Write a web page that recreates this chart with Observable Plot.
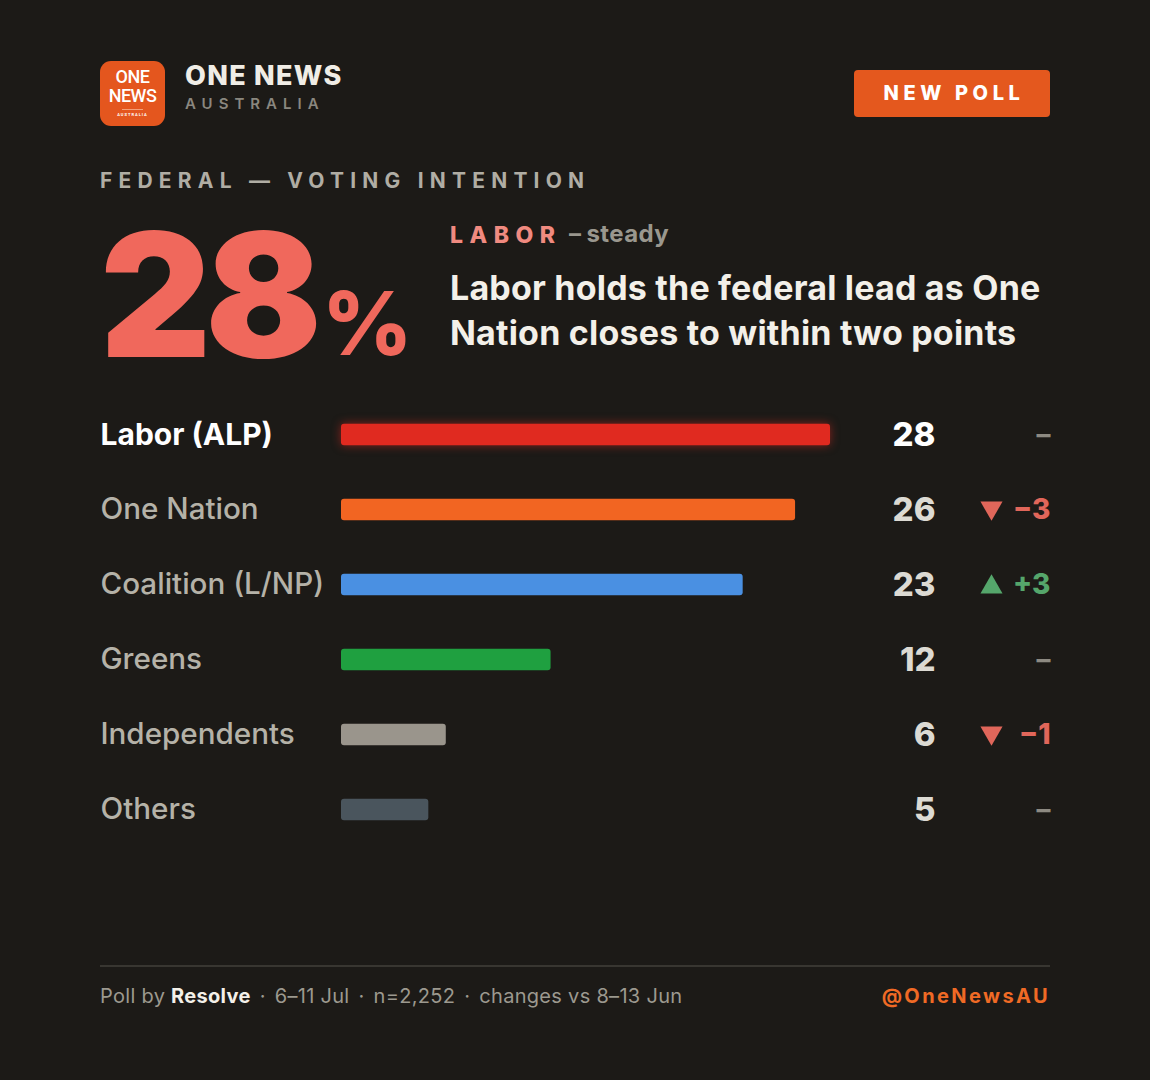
<!DOCTYPE html>
<html>
<head>
<meta charset="utf-8">
<script src="https://cdn.jsdelivr.net/npm/d3@7"></script>
<script src="https://cdn.jsdelivr.net/npm/@observablehq/plot@0.6"></script>
<style>
  html, body { margin: 0; padding: 0; background: #1c1a17; }
  #card { position: relative; width: 1150px; height: 1080px; background: #1c1a17; overflow: hidden; font-family: Inter, Roboto, sans-serif; }
  .abs { position: absolute; white-space: nowrap; }
  #logo { left: 100px; top: 61px; width: 65px; height: 65px; border-radius: 11px; background: #e4561e; color: #fff; text-align: center; }
  #logo .l1 { position: absolute; left: 0; right: 0; top: 7px; font: 500 18px/18px Roboto, sans-serif; letter-spacing: -0.5px; }
  #logo .l2 { position: absolute; left: 0; right: 0; top: 26px; font: 500 18px/18px Roboto, sans-serif; letter-spacing: -0.5px; }
  #logo .line { position: absolute; left: 22px; right: 22px; top: 48px; height: 1px; background: #f3a07a; }
  #logo .l3 { position: absolute; left: 0; right: 0; top: 51px; font: 700 4px/5px Roboto, sans-serif; letter-spacing: 1px; }
  #brand { left: 185px; top: 60px; font: 800 27px/32px Inter, Roboto, sans-serif; color: #f0ede6; letter-spacing: 1.3px; }
  #brandsub { left: 185px; top: 95px; font: 600 15px/18px Inter, Roboto, sans-serif; color: #8a877f; letter-spacing: 6px; }
  #badge { left: 854px; top: 70px; width: 196px; height: 47px; border-radius: 4px; background: #e4581e; color: #fff; font: 800 20px/47px Inter, Roboto, sans-serif; letter-spacing: 4.6px; text-align: center; text-indent: 4px; }
  #kicker { left: 100px; top: 168px; font: 700 21px/26px Inter, Roboto, sans-serif; color: #b0ada4; letter-spacing: 6.2px; }
  #big { left: 100px; top: 229px; font: 900 172px/130px Inter, Roboto, sans-serif; color: #f0685c; letter-spacing: -6px; }
  #pct { left: 322px; top: 273px; font: 800 88px/100px Inter, Roboto, sans-serif; color: #f0685c; }
  #party { left: 450px; top: 221px; font: 800 23px/28px Inter, Roboto, sans-serif; color: #f08a80; letter-spacing: 6.5px; }
  #steady { left: 569px; top: 220px; font: 700 24px/28px Inter, Roboto, sans-serif; color: #9a978e; letter-spacing: 0.4px; }
  #steady .d { margin-right: 5px; }
  #headline { left: 450px; top: 265px; font: 700 34px/45px Inter, Roboto, sans-serif; color: #f3f0e9; letter-spacing: 0.2px; }
  #chart { left: 0; top: 380px; }
  #rule { left: 100px; top: 965px; width: 950px; height: 2px; background: #383631; }
  #foot { left: 100px; top: 983px; font: 400 20px/26px Inter, Roboto, sans-serif; color: #9c998f; letter-spacing: 0.3px; }
  #foot b { color: #f3f0e9; font-weight: 700; }
  #foot .sep { margin: 0 9px; }
  #handle { right: 100px; top: 983px; font: 700 20px/26px Inter, Roboto, sans-serif; color: #f06a25; letter-spacing: 2.4px; }
</style>
</head>
<body>
<div id="card">
  <div id="logo" class="abs"><div class="l1">ONE</div><div class="l2">NEWS</div><div class="line"></div><div class="l3">AUSTRALIA</div></div>
  <div id="brand" class="abs">ONE NEWS</div>
  <div id="brandsub" class="abs">AUSTRALIA</div>
  <div id="badge" class="abs">NEW POLL</div>
  <div id="kicker" class="abs">FEDERAL — VOTING INTENTION</div>
  <div id="big" class="abs">28</div>
  <div id="pct" class="abs">%</div>
  <div id="party" class="abs">LABOR</div>
  <div id="steady" class="abs"><span class="d">–</span>steady</div>
  <div id="headline" class="abs">Labor holds the federal lead as One<br>Nation closes to within two points</div>
  <div id="chart" class="abs"></div>
  <div id="rule" class="abs"></div>
  <div id="foot" class="abs">Poll by <b>Resolve</b><span class="sep">·</span>6–11 Jul<span class="sep">·</span>n=2,252<span class="sep">·</span>changes vs 8–13 Jun</div>
  <div id="handle" class="abs">@OneNewsAU</div>
</div>
<script>
const parties = ["Labor (ALP)", "One Nation", "Coalition (L/NP)", "Greens", "Independents", "Others"];
const shares = [28, 26, 23, 12, 6, 5];
const changes = [0, -3, 3, 0, -1, 0];
const partyColors = ["#e02a20", "#f26522", "#4a90e2", "#1fa040", "#9a958c", "#4a555d"];

const data = parties.map((p, i) => ({party: p, share: shares[i], change: changes[i]}));
const fmtChange = c => (c > 0 ? "+" : "\u2212") + Math.abs(c);
const F = "Inter, Roboto, sans-serif";

const chart = Plot.plot({
  width: 1150,
  height: 500,
  marginLeft: 341,
  marginRight: 320,
  marginTop: 0,
  marginBottom: 0,
  style: {background: "transparent", fontFamily: F, overflow: "visible"},
  x: {domain: [0, 28], axis: null},
  y: {domain: parties, range: [15.2, 468.8], padding: 0, axis: null},
  color: {domain: parties, range: partyColors},
  marks: [
    Plot.barX(data, {x: "share", y: "party", fill: "party", insetTop: 26.8, insetBottom: 26.8, rx: 3}),
    Plot.text(data, {filter: d => d.party === parties[0], y: "party", text: "party", frameAnchor: "left", textAnchor: "start", dx: -241, fill: "#ffffff", fontSize: 30, fontWeight: 700, fontFamily: F}),
    Plot.text(data, {filter: d => d.party !== parties[0], y: "party", text: "party", frameAnchor: "left", textAnchor: "start", dx: -241, fill: "#b5b2a8", fontSize: 29.6, fontWeight: 500, fontFamily: F}),
    Plot.text(data, {filter: d => d.party === parties[0], y: "party", text: d => String(d.share), frameAnchor: "right", textAnchor: "end", dx: 105, fill: "#ffffff", fontSize: 33, fontWeight: 800, fontFamily: F}),
    Plot.text(data, {filter: d => d.party !== parties[0], y: "party", text: d => String(d.share), frameAnchor: "right", textAnchor: "end", dx: 105, fill: "#dcdad3", fontSize: 33, fontWeight: 800, fontFamily: F}),
    Plot.text(data, {filter: d => d.change === 0, y: "party", text: () => "–", frameAnchor: "right", textAnchor: "end", dx: 220, fill: "#8d8a82", fontSize: 28, fontWeight: 700, fontFamily: F}),
    Plot.text(data, {filter: d => d.change < 0, y: "party", text: d => fmtChange(d.change), frameAnchor: "right", textAnchor: "end", dx: 220, fill: "#e0665a", fontSize: 28, fontWeight: 800, fontFamily: F}),
    Plot.text(data, {filter: d => d.change > 0, y: "party", text: d => fmtChange(d.change), frameAnchor: "right", textAnchor: "end", dx: 220, fill: "#55a66b", fontSize: 28, fontWeight: 800, fontFamily: F}),
    Plot.dot(data, {filter: d => d.change < 0, y: "party", frameAnchor: "right", dx: 161, dy: -2, symbol: "triangle", r: 8.2, rotate: 180, fill: "#e0665a"}),
    Plot.dot(data, {filter: d => d.change > 0, y: "party", frameAnchor: "right", dx: 161, dy: 2, symbol: "triangle", r: 8.2, fill: "#55a66b"})
  ]
});
document.getElementById("chart").appendChild(chart);
// glow on the leading bar
const firstBar = chart.querySelector("g[aria-label='bar'] rect");
if (firstBar) firstBar.style.filter = "drop-shadow(0 0 5px rgba(224,42,32,0.55))";
</script>
</body>
</html>
